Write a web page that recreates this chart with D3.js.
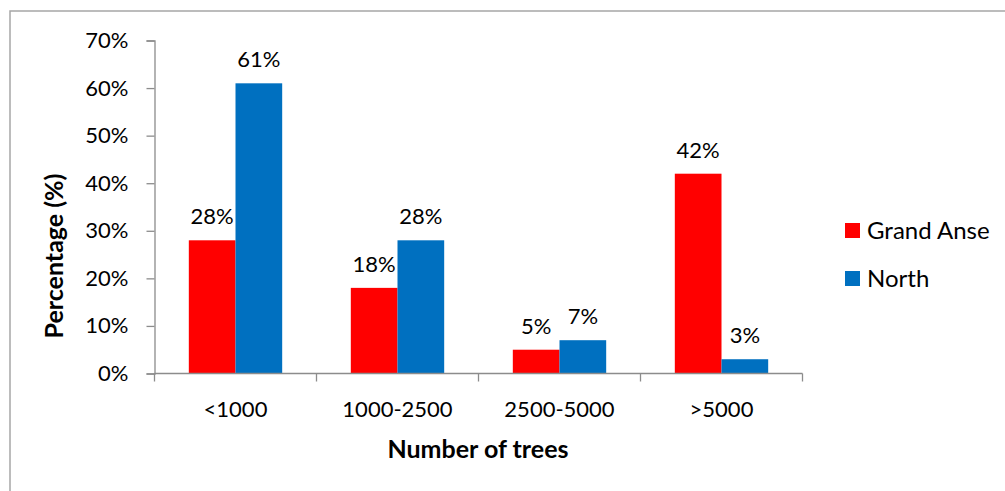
<!DOCTYPE html>
<html>
<head>
<meta charset="utf-8">
<script src="https://cdn.jsdelivr.net/npm/d3@7"></script>
<style>
  html, body { margin: 0; padding: 0; background: #fff; }
  svg { display: block; }
  text { font-family: Lato, "Open Sans", "Liberation Sans", sans-serif; fill: #000; }
</style>
</head>
<body>
<svg id="chart" width="1005" height="491"></svg>
<script>
// Share of farms by number of trees, per region
const categories = ["<1000", "1000-2500", "2500-5000", ">5000"];
const seriesNames = ["Grand Anse", "North"];
const grandAnse = [28, 18, 5, 42];
const north = [61, 28, 7, 3];
const yTicks = [0, 10, 20, 30, 40, 50, 60, 70];
const colors = ["#ff0000", "#0070c0"];

const svg = d3.select("#chart");

// outer chart frame
svg.append("rect")
  .attr("x", 10).attr("y", 11)
  .attr("width", 1010).attr("height", 500)
  .attr("fill", "none").attr("stroke", "#a6a6a6").attr("stroke-width", 1.5);

const plot = { left: 154.5, right: 802.5, top: 40.5, bottom: 373.5 };

const x = d3.scaleBand().domain(categories).range([plot.left, plot.right]);
const xSeries = d3.scaleBand().domain(seriesNames)
  .range([0, x.bandwidth()]).paddingInner(0).paddingOuter(0.735);
const y = d3.scaleLinear().domain([0, 70]).range([plot.bottom, plot.top]);

const rows = categories.map((c, i) => ({ cat: c, values: [grandAnse[i], north[i]] }));

// bars
const groups = svg.append("g").selectAll("g").data(rows).join("g")
  .attr("transform", d => `translate(${x(d.cat)},0)`);

groups.selectAll("rect").data(d => d.values.map((v, j) => ({ name: seriesNames[j], v, j })))
  .join("rect")
  .attr("x", d => xSeries(d.name))
  .attr("width", xSeries.bandwidth())
  .attr("y", d => y(d.v))
  .attr("height", d => y(0) - y(d.v))
  .attr("fill", d => colors[d.j]);

// value labels
groups.selectAll("text.val").data(d => d.values.map((v, j) => ({ name: seriesNames[j], v, j })))
  .join("text")
  .attr("class", "val")
  .attr("x", d => xSeries(d.name) + xSeries.bandwidth() / 2)
  .attr("y", d => y(d.v) - 16)
  .attr("text-anchor", "middle")
  .style("font-size", "22px")
  .text(d => d.v + "%");

// y axis
const yAxis = d3.axisLeft(y).tickValues(yTicks).tickSize(8).tickPadding(18)
  .tickFormat(d => d + "%");
const gy = svg.append("g").attr("transform", `translate(${plot.left},0)`).call(yAxis);
gy.select(".domain").attr("stroke", "#8c8c8c").attr("stroke-width", 1.3);
gy.selectAll(".tick line").attr("stroke", "#8c8c8c").attr("stroke-width", 1.3);
gy.selectAll(".tick text").style("font-size", "22px").style("font-family", "Lato, sans-serif").attr("fill", "#000");

// x axis with ticks on category boundaries
const gx = svg.append("g").attr("transform", `translate(0,${plot.bottom})`);
gx.append("line").attr("x1", plot.left).attr("x2", plot.right)
  .attr("stroke", "#8c8c8c").attr("stroke-width", 1.3);
const bounds = categories.map(c => x(c)).concat([plot.right]);
gx.selectAll("line.tk").data(bounds).join("line").attr("class", "tk")
  .attr("x1", d => d).attr("x2", d => d).attr("y1", 0).attr("y2", 8)
  .attr("stroke", "#8c8c8c").attr("stroke-width", 1.3);
gx.selectAll("text").data(categories).join("text")
  .attr("x", d => x(d) + x.bandwidth() / 2)
  .attr("y", 43)
  .attr("text-anchor", "middle")
  .style("font-size", "22px")
  .text(d => d);

// axis titles
svg.append("text")
  .attr("transform", `translate(63,256) rotate(-90)`)
  .attr("text-anchor", "middle")
  .style("font-size", "25px").style("font-weight", "bold")
  .text("Percentage (%)");

svg.append("text")
  .attr("x", 478).attr("y", 458)
  .attr("text-anchor", "middle")
  .style("font-size", "25px").style("font-weight", "bold")
  .text("Number of trees");

// legend
const legend = svg.append("g").selectAll("g").data(seriesNames).join("g")
  .attr("transform", (d, i) => `translate(845,${223 + i * 48})`);
legend.append("rect").attr("width", 15).attr("height", 15)
  .attr("fill", (d, i) => colors[i]);
legend.append("text").attr("x", 22).attr("y", 16)
  .style("font-size", "24px").text(d => d);
</script>
</body>
</html>
